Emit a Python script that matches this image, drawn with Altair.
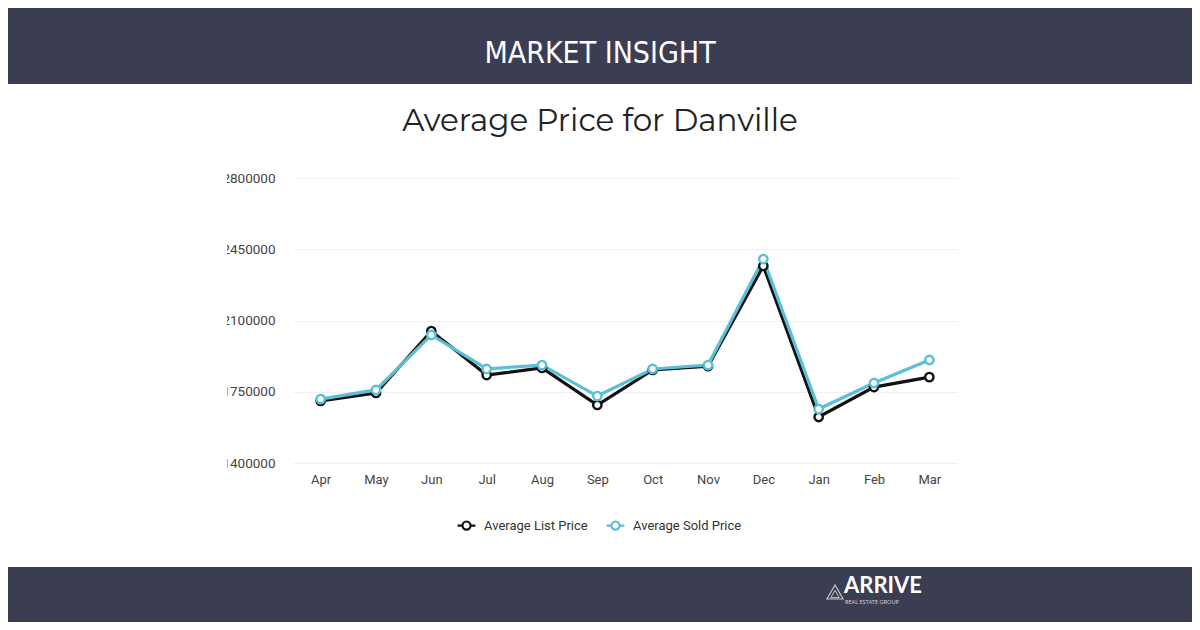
import altair as alt
import pandas as pd

months = ["Apr", "May", "Jun", "Jul", "Aug", "Sep", "Oct", "Nov", "Dec", "Jan", "Feb", "Mar"]
list_price = [1705000, 1744000, 2048000, 1832000, 1867000, 1685000, 1857000, 1876000, 2368000, 1626000, 1773000, 1822000]
sold_price = [1714000, 1759000, 2029000, 1862000, 1881000, 1729000, 1862000, 1881000, 2402000, 1665000, 1793000, 1906000]
series_names = ["Average List Price", "Average Sold Price"]
series_colors = ["#111111", "#5bbfd6"]
y_ticks = [1400000, 1750000, 2100000, 2450000, 2800000]

rows = []
for m, lp, sp in zip(months, list_price, sold_price):
    rows.append({"month": m, "series": series_names[0], "price": lp})
    rows.append({"month": m, "series": series_names[1], "price": sp})
df = pd.DataFrame(rows)

BANNER = "#3b3d52"
one = alt.Data(values=[{}])

x_enc = alt.X("month:N", sort=months, title=None,
              scale=alt.Scale(type="point", padding=0.5),
              axis=alt.Axis(domain=False, ticks=False, grid=False, labelAngle=0,
                            labelPadding=10, labelFontSize=13, labelColor="#444444",
                            labelFont="Roboto"))
y_enc = alt.Y("price:Q", title=None,
              scale=alt.Scale(domain=[1400000, 2800000], nice=False, zero=False),
              axis=alt.Axis(values=y_ticks, format="d", domain=False, ticks=False,
                            gridColor="#f0f0f0", gridWidth=1, labelPadding=18,
                            labelFontSize=13.5, labelColor="#444444", labelFont="Roboto"))
color_enc = alt.Color("series:N", scale=alt.Scale(domain=series_names, range=series_colors),
                      legend=alt.Legend(title=None, orient="none", legendX=163, legendY=337,
                                        direction="horizontal", labelFontSize=13,
                                        labelFont="Roboto", labelColor="#333333",
                                        symbolType="M-1,0L-0.45,0M0.45,0L1,0M0.45,0A0.45,0.45,0,1,1,-0.45,0A0.45,0.45,0,1,1,0.45,0Z",
                                        symbolSize=320, symbolStrokeWidth=2.2,
                                        symbolFillColor="white", labelOffset=7,
                                        columnPadding=14))

top_banner = alt.Chart(one).mark_rect(color=BANNER).encode(
    x=alt.value(-300), x2=alt.value(920), y=alt.value(-185), y2=alt.value(-94))
bottom_banner = alt.Chart(one).mark_rect(color=BANNER).encode(
    x=alt.value(-300), x2=alt.value(920), y=alt.value(389), y2=alt.value(470))
header = alt.Chart(one).mark_text(text="MARKET INSIGHT", color="white", fontSize=30,
                                  font="Liberation Sans Narrow, DejaVu Sans Condensed, sans-serif",
                                  align="center", baseline="middle").encode(
    x=alt.value(307), y=alt.value(-124))
title = alt.Chart(one).mark_text(text="Average Price for Danville", color="#222222", fontSize=31,
                                 font="Montserrat, Open Sans, sans-serif",
                                 align="center", baseline="middle").encode(
    x=alt.value(307), y=alt.value(-56))
logo_tri = alt.Chart(one).mark_point(shape="triangle-up", filled=False, color="white",
                                     size=260, strokeWidth=1.2).encode(
    x=alt.value(542), y=alt.value(414))
logo_tri_in = alt.Chart(one).mark_point(shape="triangle-up", filled=False, color="white",
                                        size=70, strokeWidth=1).encode(
    x=alt.value(542), y=alt.value(416))
logo_text = alt.Chart(one).mark_text(text="ARRIVE", color="white", fontSize=22, fontWeight="bold",
                                     font="Lato, sans-serif", align="left", baseline="middle").encode(
    x=alt.value(551), y=alt.value(408))
logo_sub = alt.Chart(one).mark_text(text="REAL ESTATE GROUP", color="#cfd0da", fontSize=5.5,
                                    font="Lato, sans-serif", align="left", baseline="middle").encode(
    x=alt.value(552), y=alt.value(424))

lines = alt.Chart(df).mark_line(strokeWidth=3.2).encode(x=x_enc, y=y_enc, color=color_enc)
points = alt.Chart(df).mark_point(filled=False, fill="white", size=70, strokeWidth=2.4, opacity=1).encode(
    x=x_enc, y=y_enc, color=alt.Color("series:N", scale=alt.Scale(domain=series_names, range=series_colors), legend=None))
mask = alt.Chart(one).mark_rect(color="white").encode(
    x=alt.value(-300), x2=alt.value(-66), y=alt.value(-14), y2=alt.value(296))

chart = alt.layer(top_banner, bottom_banner, header, title, logo_tri, logo_tri_in, logo_text, logo_sub,
                  lines, points, mask).properties(
    width=664, height=285,
    autosize=alt.AutoSizeParams(type="none"),
    padding={"left": 285, "top": 170, "right": 235, "bottom": 159},
    background="white",
).configure_view(stroke=None)

chart.save("out.html", embed_options={"renderer": "svg", "actions": False})
